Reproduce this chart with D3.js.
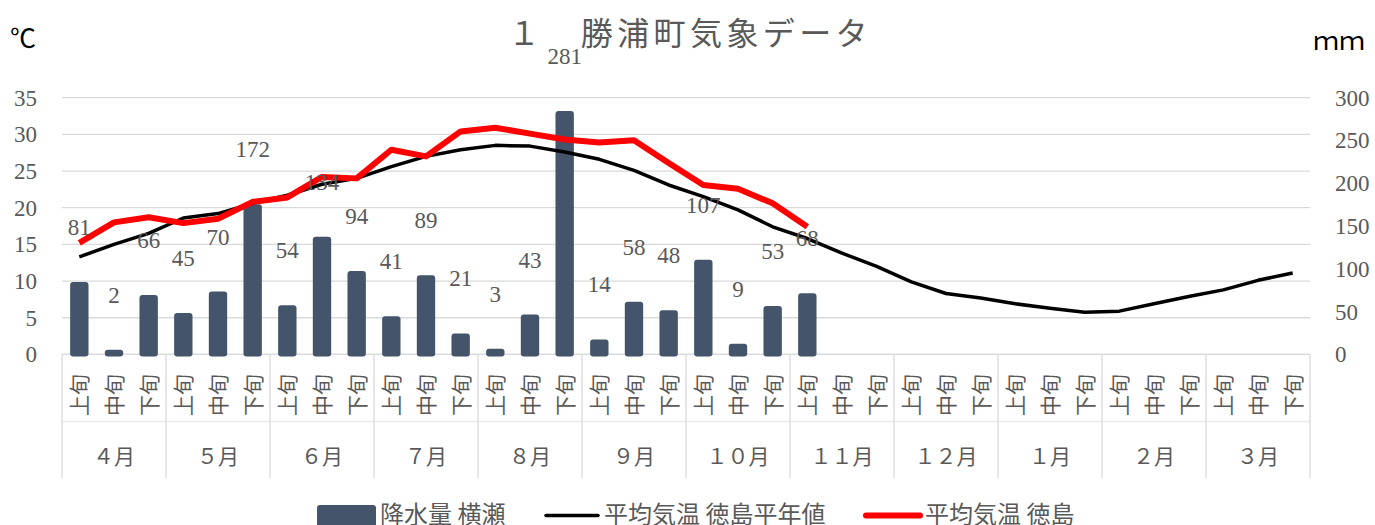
<!DOCTYPE html>
<meta charset="utf-8">
<style>
  body { margin: 0; background: #fff; }
  svg { display: block; font-family: "Liberation Serif", "Noto Sans CJK JP", serif; }
  .grid line { stroke: #d9d9d9; stroke-width: 1.3; }
  .tick-label { fill: #595959; font-size: 23px; }
  .cat-label { fill: #595959; font-size: 21px; font-family: "Noto Sans CJK JP", sans-serif; }
  .bar-label { fill: #595959; font-size: 23px; }
  .legend text { fill: #595959; font-size: 24px; font-family: "Noto Sans CJK JP", sans-serif; }
</style>

<body>
  <script src="https://d3js.org/d3.v7.min.js"></script>
  <script>

    var months = ["４月", "５月", "６月", "７月", "８月", "９月", "１０月", "１１月", "１２月", "１月", "２月", "３月"];
    var periods = ["上旬", "中旬", "下旬"];

    // 降水量 横瀬 (mm), 4月上旬 - 11月上旬
    var rain = [81, 2, 66, 45, 70, 172, 54, 134, 94, 41, 89, 21, 3, 43, 281, 14, 58, 48, 107, 9, 53, 68];

    // 平均気温 徳島平年値 (℃), 4月上旬 - 3月下旬
    var tempNormal = [13.3, 15.0, 16.5, 18.6, 19.2, 20.6, 21.7, 23.2, 24.0, 25.6, 27.0, 27.9,
      28.5, 28.4, 27.6, 26.6, 25.1, 23.1, 21.5, 19.7, 17.4, 15.8, 13.8, 12.0,
      9.9, 8.3, 7.7, 6.9, 6.3, 5.75, 5.9, 6.9, 7.9, 8.8, 10.1, 11.1];

    // 平均気温 徳島 (℃)
    var tempActual = [15.2, 18.0, 18.7, 17.9, 18.5, 20.8, 21.4, 24.2, 24.0, 27.9, 27.0, 30.4,
      30.9, 30.1, 29.3, 28.9, 29.2, 26.1, 23.1, 22.6, 20.6, 17.4];

    var tempTicks = [0, 5, 10, 15, 20, 25, 30, 35];
    var rainTicks = [0, 50, 100, 150, 200, 250, 300];

    var width = 1375,
      height = 525,
      plotLeft = 62,
      plotRight = 1310,
      plotTop = 97.7,
      plotBottom = 354.4;

    var cats = d3.range(months.length * periods.length);

    var x = d3.scaleBand().domain(cats).range([plotLeft, plotRight]).padding(0);
    var yT = d3.scaleLinear().domain([0, 35]).range([plotBottom, plotTop]);
    var yR = d3.scaleLinear().domain([0, 300]).range([plotBottom, plotTop]);

    var svg = d3.select("body").append("svg")
      .attr("width", width)
      .attr("height", height);

    // gridlines
    svg.append("g").attr("class", "grid")
      .selectAll("line")
      .data(tempTicks)
      .enter().append("line")
      .attr("x1", plotLeft).attr("x2", plotRight)
      .attr("y1", function (d) { return yT(d); })
      .attr("y2", function (d) { return yT(d); });

    // left axis labels
    svg.append("g")
      .selectAll("text")
      .data(tempTicks)
      .enter().append("text")
      .attr("class", "tick-label")
      .attr("x", 37)
      .attr("y", function (d) { return yT(d) + 8; })
      .attr("text-anchor", "end")
      .text(function (d) { return d; });

    // right axis labels
    svg.append("g")
      .selectAll("text")
      .data(rainTicks)
      .enter().append("text")
      .attr("class", "tick-label")
      .attr("x", 1335)
      .attr("y", function (d) { return yR(d) + 8; })
      .attr("text-anchor", "start")
      .text(function (d) { return d; });

    // units
    svg.append("text").attr("x", 10).attr("y", 48)
      .style("font-size", "26px").style("font-family", "'Noto Sans CJK JP'").style("fill", "#000")
      .text("℃");
    svg.append("text").attr("x", 1313).attr("y", 50)
      .style("font-size", "26px").style("font-family", "'Noto Sans CJK JP'").style("fill", "#000")
      .text("ｍｍ");

    // title
    svg.append("text")
      .attr("x", 508).attr("y", 45)
      .style("font-size", "32px")
      .style("letter-spacing", "4.4px")
      .style("font-family", "'Noto Sans CJK JP'")
      .style("fill", "#595959")
      .text("１　勝浦町気象データ");

    // category axis
    var axis = svg.append("g").attr("class", "grid");
    axis.append("line").attr("x1", plotLeft).attr("x2", plotRight).attr("y1", plotBottom).attr("y2", plotBottom);
    axis.append("line").attr("x1", plotLeft).attr("x2", plotRight).attr("y1", 421.5).attr("y2", 421.5)
      .style("stroke", "#ececec");
    axis.selectAll(".sep")
      .data(d3.range(months.length + 1))
      .enter().append("line")
      .attr("class", "sep")
      .attr("x1", function (i) { return plotLeft + i * 3 * x.bandwidth(); })
      .attr("x2", function (i) { return plotLeft + i * 3 * x.bandwidth(); })
      .attr("y1", plotBottom).attr("y2", 478);

    svg.append("g")
      .selectAll("text")
      .data(cats)
      .enter().append("text")
      .attr("class", "cat-label")
      .attr("text-anchor", "end")
      .attr("dy", "0.38em")
      .attr("transform", function (d) {
        return "translate(" + (x(d) + x.bandwidth() / 2) + ",374) rotate(-90)";
      })
      .text(function (d) { return periods[d % 3]; });

    svg.append("g")
      .selectAll("text")
      .data(months)
      .enter().append("text")
      .attr("class", "cat-label")
      .attr("text-anchor", "middle")
      .attr("x", function (d, i) { return plotLeft + (i * 3 + 1.5) * x.bandwidth(); })
      .attr("y", 464)
      .text(function (d) { return d; });

    // bars
    var barW = x.bandwidth() * 0.53;
    svg.append("g")
      .selectAll("rect")
      .data(rain)
      .enter().append("rect")
      .attr("x", function (d, i) { return x(i) + (x.bandwidth() - barW) / 2; })
      .attr("y", function (d) { return yR(d) - 3; })
      .attr("width", barW)
      .attr("height", function (d) { return yR(0) - yR(d) + 5; })
      .attr("rx", 3)
      .attr("fill", "#44546a");

    // lines
    var lineT = d3.line()
      .x(function (d, i) { return x(i) + x.bandwidth() / 2; })
      .y(function (d) { return yT(d); });

    svg.append("path")
      .datum(tempNormal)
      .attr("d", lineT)
      .attr("fill", "none")
      .attr("stroke", "#000")
      .attr("stroke-width", 3.5)
      .attr("stroke-linejoin", "round");

    svg.append("path")
      .datum(tempActual)
      .attr("d", lineT)
      .attr("fill", "none")
      .attr("stroke", "#ff0000")
      .attr("stroke-width", 6)
      .attr("stroke-linejoin", "round");

    // bar labels
    svg.append("g")
      .selectAll("text")
      .data(rain)
      .enter().append("text")
      .attr("class", "bar-label")
      .attr("text-anchor", "middle")
      .attr("x", function (d, i) { return x(i) + x.bandwidth() / 2; })
      .attr("y", function (d) { return yR(d) - 50; })
      .text(function (d) { return d; });

    // legend
    var lg = svg.append("g").attr("class", "legend");
    lg.append("rect").attr("x", 317).attr("y", 505).attr("width", 59).attr("height", 24)
      .attr("rx", 3).attr("fill", "#44546a");
    lg.append("text").attr("x", 380).attr("y", 523).text("降水量 横瀬");
    lg.append("line").attr("x1", 546).attr("x2", 598).attr("y1", 515.5).attr("y2", 515.5)
      .attr("stroke", "#000").attr("stroke-width", 3.5).attr("stroke-linecap", "round");
    lg.append("text").attr("x", 604).attr("y", 523).text("平均気温 徳島平年値");
    lg.append("line").attr("x1", 866).attr("x2", 920).attr("y1", 515.5).attr("y2", 515.5)
      .attr("stroke", "#ff0000").attr("stroke-width", 6).attr("stroke-linecap", "round");
    lg.append("text").attr("x", 925).attr("y", 523).text("平均気温 徳島");

  </script>
